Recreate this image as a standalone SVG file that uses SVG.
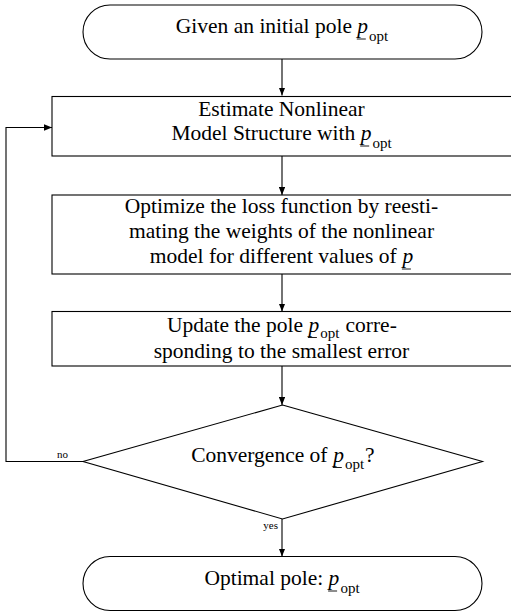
<svg xmlns="http://www.w3.org/2000/svg" width="511" height="614" viewBox="0 0 511 614">
<defs>
<style>
text{font-family:'Liberation Serif','Times New Roman',Times,'Nimbus Roman','DejaVu Serif',serif;font-size:21.5px;fill:#000}
.c{text-anchor:middle}
.it{font-style:italic}
.sub{font-size:15px}
.sm{font-size:11px}
.shape{fill:#fff;stroke:#000;stroke-width:1.1}
.ul{stroke:#000;stroke-width:0.9}
.edge{fill:none;stroke:#000;stroke-width:1.1}
</style>
<marker id="ah" viewBox="0 0 10 8" refX="10" refY="4" markerWidth="8" markerHeight="6.4" markerUnits="userSpaceOnUse" orient="auto">
<path d="M0,0 L10,4 L0,8 Z" fill="#000"/>
</marker>
</defs>

<g id="connectors">
<path class="edge" d="M282,59 V95.5" marker-end="url(#ah)"/>
<path class="edge" d="M282,156 V195" marker-end="url(#ah)"/>
<path class="edge" d="M282,274 V311.5" marker-end="url(#ah)"/>
<path class="edge" d="M282,366 V405" marker-end="url(#ah)"/>
<path class="edge" d="M282,519 V556.5" marker-end="url(#ah)"/>
<path class="edge" d="M83,461.5 H6 V127.5 H52" marker-end="url(#ah)"/>
<text class="sm" x="62.5" y="458" text-anchor="middle">no</text>
<text class="sm" x="278" y="529" text-anchor="end">yes</text>
</g>

<g id="start">
<rect class="shape" x="83" y="5" width="399" height="54" rx="27" ry="27"/>
<text x="175.8" y="33">Given an initial pole</text>
<text class="it" x="357.3" y="33">p</text>
<line class="ul" x1="356.8" y1="39" x2="365.8" y2="39"/>
<text class="sub" x="369.1" y="40.5">opt</text>
</g>

<g id="estimate">
<rect class="shape" x="52" y="96.5" width="470" height="59.5"/>
<text class="c" x="281.5" y="116">Estimate Nonlinear</text>
<text x="171.4" y="140">Model Structure with</text>
<text class="it" x="360.7" y="140">p</text>
<line class="ul" x1="360.2" y1="146" x2="369.2" y2="146"/>
<text class="sub" x="372.4" y="147.5">opt</text>
</g>

<g id="optimize">
<rect class="shape" x="52" y="195" width="470" height="79"/>
<text class="c" x="281.5" y="213">Optimize the loss function by reesti-</text>
<text class="c" x="281.5" y="238">mating the weights of the nonlinear</text>
<text x="149.8" y="263">model for different values of</text>
<text class="it" x="402.4" y="263">p</text>
<line class="ul" x1="401.9" y1="269" x2="410.9" y2="269"/>
</g>

<g id="update">
<rect class="shape" x="52" y="311.5" width="470" height="54.5"/>
<text x="166.9" y="331.5">Update the pole</text>
<text class="it" x="308.4" y="331.5">p</text>
<line class="ul" x1="307.9" y1="337.5" x2="316.9" y2="337.5"/>
<text class="sub" x="320.2" y="338">opt</text>
<text x="345.5" y="331.5">corre-</text>
<text class="c" x="281.5" y="357.5">sponding to the smallest error</text>
</g>

<g id="decision">
<polygon class="shape" points="282.5,405 482.5,461.5 282.5,519 83,461.5"/>
<text x="191.2" y="461.5">Convergence of</text>
<text class="it" x="333.3" y="461.5">p</text>
<line class="ul" x1="332.8" y1="467.5" x2="341.8" y2="467.5"/>
<text class="sub" x="345.1" y="469">opt</text>
<text x="365" y="461.5">?</text>
</g>

<g id="end">
<rect class="shape" x="83" y="556.5" width="399" height="54" rx="27" ry="27"/>
<text x="204.4" y="585">Optimal pole:</text>
<text class="it" x="328.6" y="585">p</text>
<line class="ul" x1="328.1" y1="591" x2="337.1" y2="591"/>
<text class="sub" x="340.4" y="592.5">opt</text>
</g>
</svg>
